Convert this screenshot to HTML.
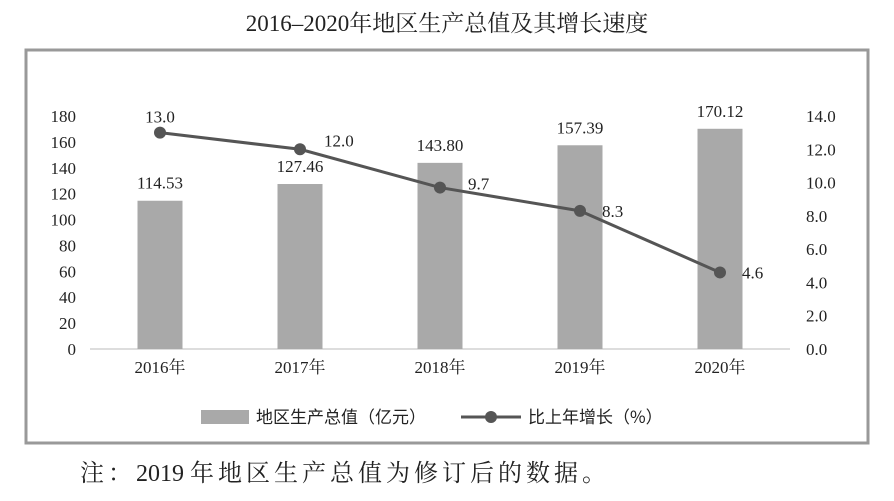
<!DOCTYPE html>
<html><head><meta charset="utf-8"><style>
body{margin:0;background:#fff;width:894px;height:496px;overflow:hidden;font-family:"Liberation Serif","Noto Serif CJK SC",serif;}
</style></head><body>
<svg width="894" height="496" xmlns="http://www.w3.org/2000/svg">
<text x="447" y="31" text-anchor="middle" font-size="23" fill="#222" font-family="Liberation Serif, Noto Serif CJK SC, serif">2016–2020年地区生产总值及其增长速度</text>
<rect x="26" y="50" width="842" height="393" fill="none" stroke="#999" stroke-width="3"/>
<g id="plot"></g>
<g>
<rect x="201" y="410" width="48" height="14" fill="#a9a9a9"/>
<text x="256" y="423" font-size="17" fill="#222" font-family="Noto Sans CJK SC, sans-serif">地区生产总值（亿元）</text>
<line x1="461" y1="417" x2="521" y2="417" stroke="#555" stroke-width="3"/>
<circle cx="491" cy="417" r="6" fill="#555"/>
<text x="528" y="423" font-size="17" fill="#222" font-family="Noto Sans CJK SC, sans-serif">比上年增长（%）</text>
</g>
<text x="80" y="481" font-size="24" fill="#222" font-family="Liberation Serif, Noto Serif CJK SC, serif"><tspan letter-spacing="4">注：</tspan><tspan letter-spacing="0">2019 </tspan><tspan letter-spacing="4">年地区生产总值为修订后的数据。</tspan></text>
</svg>
<script>
const categories=["2016年","2017年","2018年","2019年","2020年"];
const gdp=[114.53,127.46,143.80,157.39,170.12];
const gdpLabels=["114.53","127.46","143.80","157.39","170.12"];
const growth=[13.0,12.0,9.7,8.3,4.6];
const growthLabels=["13.0","12.0","9.7","8.3","4.6"];
const leftTicks=[0,20,40,60,80,100,120,140,160,180];
const rightTicks=["0.0","2.0","4.0","6.0","8.0","10.0","12.0","14.0"];
const NS="http://www.w3.org/2000/svg";
const g=document.getElementById('plot');
const y0=349,y1=116,x0=90,x1=790;
const yL=v=>y0-(v/180)*(y0-y1);
const yR=v=>y0-(v/14)*(y0-y1);
const band=(x1-x0)/categories.length;
const xC=i=>x0+band*(i+0.5);
function mk(tag,attrs,txt){const e=document.createElementNS(NS,tag);for(const k in attrs)e.setAttribute(k,attrs[k]);if(txt!=null)e.textContent=txt;g.appendChild(e);return e;}
const ff="Liberation Serif, Noto Serif CJK SC, serif";
mk('line',{x1:x0,y1:y0,x2:x1,y2:y0,stroke:'#bbb','stroke-width':1});
leftTicks.forEach(v=>{const t=mk('text',{x:76,y:yL(v)+6,'text-anchor':'end','font-size':17,fill:'#222','font-family':ff},String(v));

});
rightTicks.forEach(s=>{const t=mk('text',{x:806,y:yR(parseFloat(s))+6,'font-size':17,fill:'#222','font-family':ff},s);

});
categories.forEach((c,i)=>{
const b=mk('rect',{x:xC(i)-22.5,y:yL(gdp[i]),width:45,height:y0-yL(gdp[i]),fill:'#a9a9a9'});


const bl=mk('text',{x:xC(i),y:yL(gdp[i])-12,'text-anchor':'middle','font-size':17,fill:'#222','font-family':ff},gdpLabels[i]);


const cl=mk('text',{x:xC(i),y:373,'text-anchor':'middle','font-size':17,fill:'#222','font-family':ff},c);


});
const pts=growth.map((v,i)=>xC(i)+','+yR(v)).join(' ');
const pl=mk('polyline',{points:pts,fill:'none',stroke:'#555','stroke-width':3});


const dxs=[0,24,28,22,22], dys=[-10,-3,2,6,6];
growth.forEach((v,i)=>{
const c=mk('circle',{cx:xC(i),cy:yR(v),r:6,fill:'#555'});


const t=mk('text',{x:xC(i)+dxs[i],y:yR(v)+dys[i],'text-anchor':i===0?'middle':'start','font-size':17,fill:'#222','font-family':ff},growthLabels[i]);


});
</script>
</body></html>
